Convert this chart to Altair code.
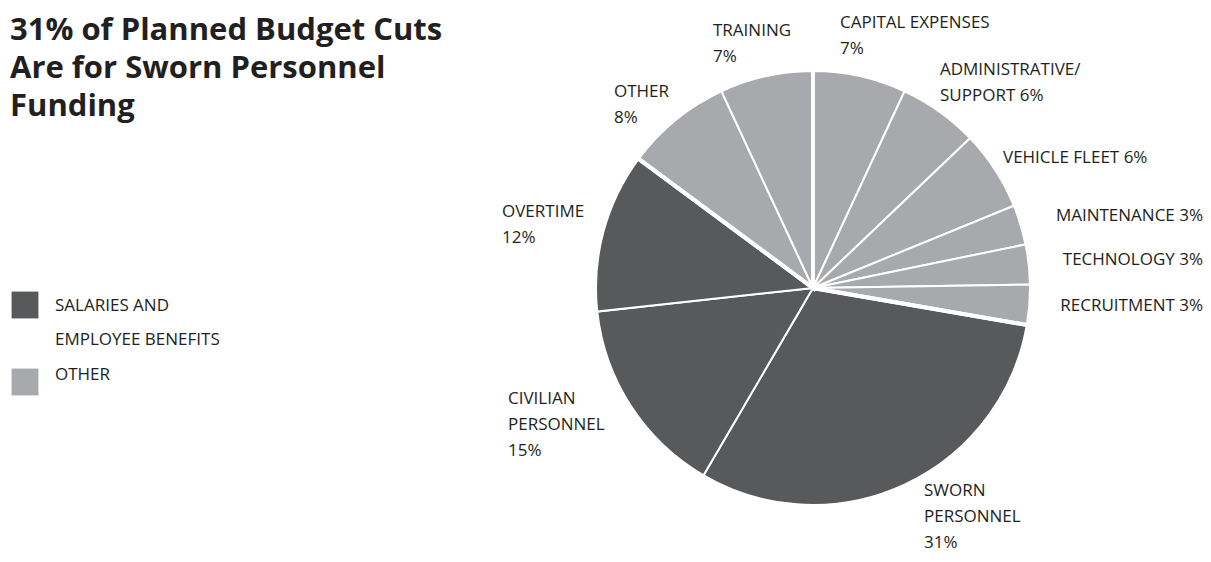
import altair as alt
import pandas as pd

# ---- data ----
CATEGORIES = ["Capital Expenses", "Administrative/Support", "Vehicle Fleet", "Maintenance",
              "Technology", "Recruitment", "Sworn Personnel", "Civilian Personnel",
              "Overtime", "Other", "Training"]
PERCENTS = [7, 6, 6, 3, 3, 3, 31, 15, 12, 8, 7]
GROUPS = ["Other"] * 6 + ["Salaries and employee benefits"] * 3 + ["Other"] * 2
GROUP_NAMES = ["Salaries and employee benefits", "Other"]
TITLE_LINES = ["31% of Planned Budget Cuts", "Are for Sworn Personnel", "Funding"]

# ---- styles / layout ----
DARK = "#58595b"
LIGHT = "#a7a9ac"
INK = "#231f20"
FONT = "Open Sans"
LABEL_SIZE = 17
W, H = 1195, 546
CX, CY, R = 805, 280, 217

# label templates and anchor positions (annotation layout)
LABEL_LAYOUT = {
    "Capital Expenses":       ("CAPITAL EXPENSES\n{p}%", 832, 20, "left"),
    "Administrative/Support": ("ADMINISTRATIVE/\nSUPPORT {p}%", 932, 67, "left"),
    "Vehicle Fleet":          ("VEHICLE FLEET {p}%", 995, 155, "left"),
    "Maintenance":            ("MAINTENANCE {p}%", 1195, 213, "right"),
    "Technology":             ("TECHNOLOGY {p}%", 1195, 257, "right"),
    "Recruitment":            ("RECRUITMENT {p}%", 1195, 303, "right"),
    "Sworn Personnel":        ("SWORN\nPERSONNEL\n{p}%", 916, 488, "left"),
    "Civilian Personnel":     ("CIVILIAN\nPERSONNEL\n{p}%", 500, 396, "left"),
    "Overtime":               ("OVERTIME\n{p}%", 494, 209, "left"),
    "Other":                  ("OTHER\n{p}%", 606, 89, "left"),
    "Training":               ("TRAINING\n{p}%", 705, 28, "left"),
}

df = pd.DataFrame({"category": CATEGORIES, "pct": PERCENTS, "group": GROUPS,
                   "idx": list(range(len(CATEGORIES)))})

# consecutive runs of groups, for the thicker separators between groups
runs = []
for g, p in zip(GROUPS, PERCENTS):
    if runs and runs[-1]["group"] == g:
        runs[-1]["pct"] += p
    else:
        runs.append({"group": g, "pct": p, "idx": len(runs)})
runs_df = pd.DataFrame(runs)

lab_rows = []
for c, p in zip(CATEGORIES, PERCENTS):
    tmpl, lx, ly, al = LABEL_LAYOUT[c]
    lab_rows.append({"text": tmpl.format(p=p), "lx": lx, "ly": ly, "al": al})
lab_df = pd.DataFrame(lab_rows)

color_scale = alt.Scale(domain=GROUP_NAMES, range=[DARK, LIGHT])

pie = alt.Chart(df).mark_arc(outerRadius=R, stroke="white", strokeWidth=2).encode(
    theta=alt.Theta("pct:Q", stack=True),
    order=alt.Order("idx:Q"),
    color=alt.Color("group:N", scale=color_scale, legend=None),
    x=alt.value(CX), y=alt.value(CY),
)

seps = alt.Chart(runs_df).mark_arc(outerRadius=R + 3, stroke="white", strokeWidth=4,
                                   fillOpacity=0).encode(
    theta=alt.Theta("pct:Q", stack=True),
    order=alt.Order("idx:Q"),
    x=alt.value(CX), y=alt.value(CY),
)

def label_layer(align):
    return alt.Chart(lab_df[lab_df["al"] == align]).mark_text(
        align=align, baseline="alphabetic", font=FONT, fontSize=LABEL_SIZE, color=INK,
        lineBreak="\n", lineHeight=26,
    ).encode(
        x=alt.X("lx:Q", scale=None), y=alt.Y("ly:Q", scale=None), text="text:N"
    )

title = alt.Chart(pd.DataFrame({"t": ["\n".join(TITLE_LINES)]})).mark_text(
    align="left", baseline="alphabetic", font=FONT, fontSize=31, fontWeight="bold",
    color=INK, lineBreak="\n", lineHeight=38,
).encode(x=alt.value(2), y=alt.value(32), text="t:N")

# manual legend
leg_df = pd.DataFrame({
    "group": GROUP_NAMES,
    "label": ["SALARIES AND\nEMPLOYEE BENEFITS", "OTHER"],
    "sy": [297, 374],
    "ty": [303, 372],
})
leg_sq = alt.Chart(leg_df).mark_square(size=720, opacity=1).encode(
    x=alt.value(17), y=alt.Y("sy:Q", scale=None),
    color=alt.Color("group:N", scale=color_scale, legend=None),
)
leg_tx = alt.Chart(leg_df).mark_text(
    align="left", baseline="alphabetic", font=FONT, fontSize=LABEL_SIZE, color=INK,
    lineBreak="\n", lineHeight=34,
).encode(x=alt.value(47), y=alt.Y("ty:Q", scale=None), text="label:N")

chart = alt.layer(pie, seps, label_layer("left"), label_layer("right"), title,
                  leg_sq, leg_tx).properties(
    width=W, height=H, autosize=alt.AutoSizeParams(type="none"), padding=0
).configure_view(stroke=None)

chart.save("out.html", embed_options={"renderer": "svg", "actions": False})
